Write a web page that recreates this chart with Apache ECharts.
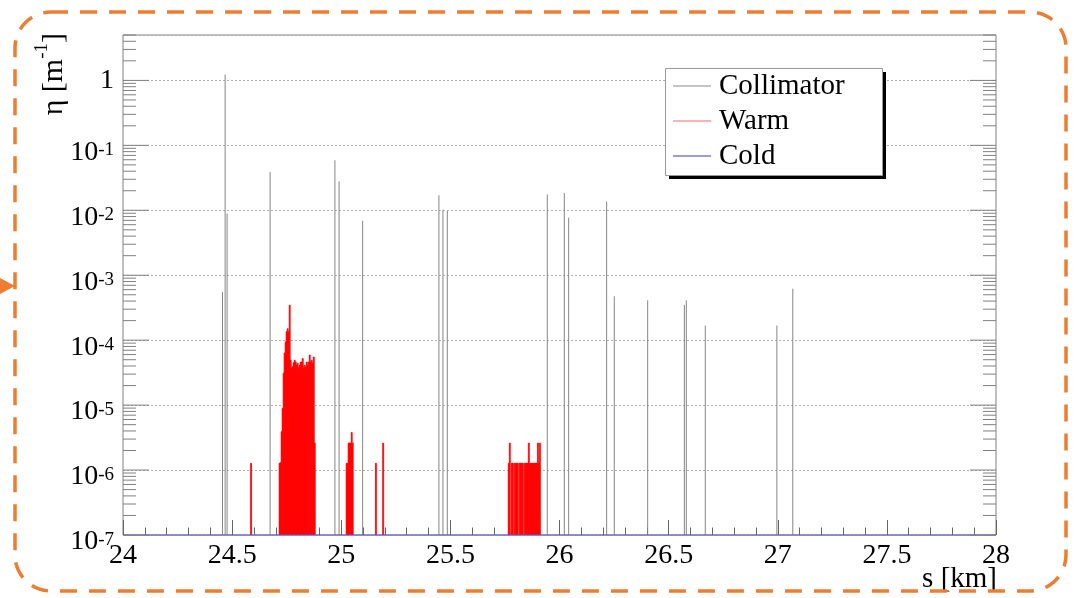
<!DOCTYPE html>
<html><head><meta charset="utf-8">
<script src="https://cdn.jsdelivr.net/npm/echarts@6/dist/echarts.min.js"></script>
<style>html,body{margin:0;padding:0;background:#fff;}#c{width:1077px;height:598px;}</style>
</head><body><div id="c"></div>
<script>
const FONT = '"Liberation Serif","Times New Roman",serif';

// axes
const xMin = 24, xMax = 28, xStep = 0.5;
const yMin = 1e-7, yMax = 5;
const yDecadeExps = [-7, -6, -5, -4, -3, -2, -1, 0];
const yMinorMultipliers = [2, 3, 4, 5, 6, 7, 8, 9];

// Collimator losses (s in km, eta in 1/m)
const collimatorS   = [24.456, 24.468, 24.477, 24.674, 24.971, 24.990, 25.098, 25.4475, 25.466, 25.486,
                       25.944, 26.022, 26.042, 26.216, 26.251, 26.404, 26.572, 26.581, 26.668, 26.996, 27.069];
const collimatorEta = [5.5e-4, 1.23, 8.9e-3, 3.9e-2, 5.9e-2, 2.8e-2, 6.9e-3, 1.7e-2, 1.02e-2, 9.8e-3,
                       1.75e-2, 1.85e-2, 7.7e-3, 1.37e-2, 4.75e-4, 4.1e-4, 3.5e-4, 4.1e-4, 1.68e-4, 1.68e-4, 6.2e-4];

// Warm losses: histogram bins
const warmBinWidth = 0.0046;
const warmBlock1Start = 24.7153;
const warmBlock1Eta = [1.27e-6, 1.3e-6, 3.9e-6, 8.9e-6, 3.1e-5, 6.3e-5, 9.4e-5, 1.35e-4, 1.5e-4, 1.35e-4,
                       3.46e-4, 4.9e-5, 3.7e-5, 3.9e-5, 4.5e-5, 4.9e-5, 4.6e-5, 4.1e-5, 4.4e-5, 3.8e-5,
                       4.1e-5, 4.6e-5, 4.6e-5, 5.2e-5, 3.7e-5, 4.1e-5, 3.8e-5, 4.6e-5, 4.1e-5, 4.6e-5,
                       5.9e-5, 4.6e-5, 4.9e-5, 4.4e-5, 5.5e-5, 2.6e-6];
const warmBlock2Start = 25.0225;
const warmBlock2Eta = [1.27e-6, 1.27e-6, 2.6e-6, 2.6e-6, 2.6e-6, 3.8e-6, 2.6e-6];
const warmBlock3Start = 25.7652;
const warmBlock3Eta = [1.27e-6, 2.6e-6, 0, 1.27e-6, 1.27e-6, 0, 1.27e-6, 1.27e-6, 1.27e-6, 1.27e-6,
                       0, 1.27e-6, 1.27e-6, 1.27e-6, 1.27e-6, 0, 1.27e-6, 1.27e-6, 1.27e-6, 1.27e-6,
                       2.6e-6, 1.27e-6, 1.27e-6, 1.27e-6, 1.27e-6, 1.27e-6, 1.27e-6, 1.27e-6, 1.27e-6, 2.6e-6,
                       1.27e-6, 2.6e-6];
const warmSingleS   = [24.5869, 25.1587, 25.1921];
const warmSingleEta = [1.27e-6, 1.27e-6, 2.6e-6];

// Cold losses (all zero -> drawn at axis minimum)
const coldS   = [24, 28];
const coldEta = [0, 0];

// ---- build series data ----
const collimatorData = collimatorS.map((s, i) => [s, collimatorEta[i]]);
const warmData = [];
function addBlock(start, vals) {
  vals.forEach((v, i) => { if (v > 0) warmData.push([start + i * warmBinWidth, v]); });
}
addBlock(warmBlock1Start, warmBlock1Eta);
addBlock(warmBlock2Start, warmBlock2Eta);
addBlock(warmBlock3Start, warmBlock3Eta);
warmSingleS.forEach((s, i) => warmData.push([s - warmBinWidth / 2, warmSingleEta[i]]));
const coldData = coldS.map((s, i) => [s, Math.max(coldEta[i], yMin)]);

const tickData = [];
yDecadeExps.forEach(e => {
  const d = Math.pow(10, e);
  tickData.push([xMin, d, 1]);
  yMinorMultipliers.forEach(m => { const v = m * d; if (v <= yMax * 1.0001) tickData.push([xMin, v, 0]); });
});

const GRAY = '#808080';
const COLD = '#5a5ae0';
const chart = echarts.init(document.getElementById('c'), null, {renderer: 'canvas'});
chart.setOption({
  animation: false,
  backgroundColor: '#ffffff',
  grid: {left: 123, right: 81, top: 35, bottom: 63, show: true, borderColor: GRAY, borderWidth: 1, backgroundColor: 'transparent'},
  xAxis: {
    type: 'value', min: xMin, max: xMax, interval: xStep,
    axisLine: {show: false},
    axisTick: {show: true, inside: true, length: 15, lineStyle: {color: '#666', width: 1}},
    minorTick: {show: true, splitNumber: 5, length: 7.5, lineStyle: {color: '#666', width: 1}},
    splitLine: {show: false},
    axisLabel: {fontFamily: FONT, fontSize: 28, color: '#000', margin: 7, formatter: v => String(v)}
  },
  yAxis: {
    type: 'log', logBase: 10, min: yMin, max: yMax,
    axisLine: {show: false}, axisTick: {show: false},
    splitLine: {show: true, lineStyle: {color: '#b0b0b0', width: 1, type: [2, 2]}},
    axisLabel: {
      margin: 9, color: '#000', fontFamily: FONT,
      formatter: v => {
        const l = Math.log10(v); const e = Math.round(l);
        if (Math.abs(l - e) > 1e-6) return '';
        if (e === 0) return '{one|1}';
        return '{b|10}{s|' + e + '}';
      },
      rich: {
        one: {fontFamily: FONT, fontSize: 28, color: '#000'},
        b: {fontFamily: FONT, fontSize: 28, lineHeight: 28, padding: [14, 0, 0, 0], color: '#000'},
        s: {fontFamily: FONT, fontSize: 19, lineHeight: 19, padding: [9.5, 0, 0, 0], verticalAlign: 'top', color: '#000'}
      }
    }
  },
  legend: {
    orient: 'vertical', left: 673, top: 68.5, padding: 0, itemGap: 0, itemWidth: 38, itemHeight: 1.5,
    icon: 'rect', selectedMode: false, z: 20,
    textStyle: {fontFamily: FONT, fontSize: 29, color: '#000', lineHeight: 29, padding: [6, 0, 0, 3]},
    data: [
      {name: 'Collimator', itemStyle: {color: '#b0b0b0'}, lineStyle: {color: '#b0b0b0'}},
      {name: 'Warm', itemStyle: {color: '#ff9a9a'}, lineStyle: {color: '#ff9a9a'}},
      {name: 'Cold', itemStyle: {color: '#7a7ae0'}, lineStyle: {color: '#7a7ae0'}}
    ]
  },
  graphic: [
    {type: 'rect', silent: true, z: 100, shape: {x: 15, y: 12, width: 1051, height: 579, r: 36},
     style: {fill: 'none', stroke: '#ED7D31', lineWidth: 3.5, lineDash: [17, 12]}},
    {type: 'polygon', silent: true, z: 100, shape: {points: [[0, 278], [15, 286], [0, 294]]}, style: {fill: '#ED7D31'}},
    {type: 'rect', silent: true, z: 10, shape: {x: 669, y: 72, width: 217, height: 107}, style: {fill: '#000'}},
    {type: 'rect', silent: true, z: 11, shape: {x: 665.5, y: 68.5, width: 217, height: 107}, style: {fill: '#fff', stroke: '#999', lineWidth: 1}},
    {type: 'text', silent: true, z: 12, x: 997, y: 579,
     style: {text: 's [km]', fontFamily: FONT, fontSize: 29, fill: '#000', align: 'right', verticalAlign: 'middle'}},
    {type: 'text', silent: true, z: 12, x: 49, y: 33, rotation: Math.PI / 2,
     style: {text: '{a|η [m}{s|-1}{a|]}', align: 'right', verticalAlign: 'middle', fill: '#000',
       rich: {
         a: {fontFamily: FONT, fontSize: 30, lineHeight: 32, padding: [10, 0, 0, 0], fill: '#000'},
         s: {fontFamily: FONT, fontSize: 19, lineHeight: 19, verticalAlign: 'top', fill: '#000'}
       }}}
  ],
  series: [
    {
      name: 'Collimator', type: 'custom', data: collimatorData, encode: {x: 0, y: 1}, z: 3, clip: true,
      itemStyle: {color: '#8c8c8c'},
      renderItem: (params, api) => {
        const s = api.value(0), v = api.value(1);
        const p0 = api.coord([s, yMin]), p1 = api.coord([s, v]);
        return {type: 'line', shape: {x1: p0[0], y1: p0[1], x2: p1[0], y2: p1[1]}, style: {stroke: '#858585', lineWidth: 1}};
      }
    },
    {
      name: 'Warm', type: 'custom', data: warmData, encode: {x: 0, y: 1}, z: 4, clip: true,
      itemStyle: {color: '#ff0000'},
      renderItem: (params, api) => {
        const s = api.value(0), v = api.value(1);
        const p0 = api.coord([s, yMin]), p1 = api.coord([s + warmBinWidth, v]);
        return {type: 'rect', shape: {x: p0[0], y: p1[1], width: p1[0] - p0[0], height: p0[1] - p1[1]},
                style: {fill: '#ff0000', stroke: '#ff0000', lineWidth: 0.8}};
      }
    },
    {
      name: 'Cold', type: 'line', data: coldData, symbol: 'none', z: 5, clip: false,
      lineStyle: {color: COLD, width: 1.2}, itemStyle: {color: COLD}, color: COLD
    },
    {
      name: 'yticks', type: 'custom', data: tickData, encode: {x: 0, y: 1}, z: 6, silent: true,
      renderItem: (params, api) => {
        const v = api.value(1), major = api.value(2);
        const pl = api.coord([xMin, v]), pr = api.coord([xMax, v]);
        const len = major ? 26 : 13;
        return {type: 'group', children: [
          {type: 'line', shape: {x1: pl[0], y1: pl[1], x2: pl[0] + len, y2: pl[1]}, style: {stroke: GRAY, lineWidth: 1}},
          {type: 'line', shape: {x1: pr[0], y1: pr[1], x2: pr[0] - len, y2: pr[1]}, style: {stroke: GRAY, lineWidth: 1}}
        ]};
      }
    }
  ]
});
</script></body></html>
